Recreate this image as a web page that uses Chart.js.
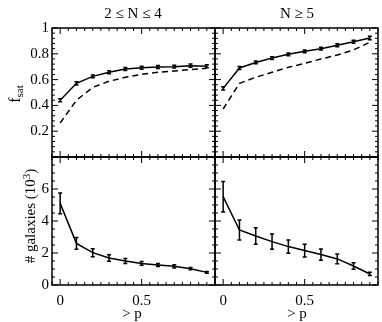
<!DOCTYPE html>
<html>
<head>
<meta charset="utf-8">
<script src="https://cdn.jsdelivr.net/npm/chart.js@4.4.1/dist/chart.umd.min.js"></script>
<style>
  body { margin: 0; background: #fff; }
  #wrap { position: relative; width: 382px; height: 322px; font-family: "Liberation Serif", serif; color: #000; }
  canvas { position: absolute; left: 0; top: 0; }
  .lbl { position: absolute; font-size: 15px; line-height: 15px; white-space: nowrap; }
  .rot { transform: translate(-50%, -50%) rotate(-90deg); }
  .ctr { transform: translate(-50%, -50%); }
  sub { font-size: 11px; vertical-align: -3px; line-height: 0; }
  sup { font-size: 11px; vertical-align: 5px; line-height: 0; }
</style>
</head>
<body>
<div id="wrap">
  <canvas id="tl" width="382" height="322"></canvas>
  <canvas id="tr" width="382" height="322"></canvas>
  <canvas id="bl" width="382" height="322"></canvas>
  <canvas id="br" width="382" height="322"></canvas>
  <div class="lbl ctr" style="left:133px;top:13px;">2 ≤ N ≤ 4</div>
  <div class="lbl ctr" style="left:297px;top:13px;">N ≥ 5</div>
  <div class="lbl rot" style="left:14px;top:94px;font-size:16px;">f<sub>sat</sub></div>
  <div class="lbl rot" style="left:30px;top:216px;"># galaxies (10<sup>3</sup>)</div>
  <div class="lbl ctr" style="left:132px;top:313px;">&gt; p</div>
  <div class="lbl ctr" style="left:297px;top:313px;">&gt; p</div>
</div>
<script>
// valores
const pCortes = [0, 0.1, 0.2, 0.3, 0.4, 0.5, 0.6, 0.7, 0.8, 0.9];

const fsatPequenos = [0.44, 0.571, 0.625, 0.657, 0.682, 0.692, 0.698, 0.70, 0.708, 0.703];
const fsatPequenosErr = [0.012, 0.012, 0.011, 0.011, 0.011, 0.011, 0.011, 0.011, 0.013, 0.012];
const fsatPequenosRef = [0.264, 0.44, 0.54, 0.587, 0.618, 0.64, 0.657, 0.667, 0.677, 0.687];

const fsatGrandes = [0.532, 0.69, 0.733, 0.767, 0.796, 0.819, 0.84, 0.866, 0.894, 0.922];
const fsatGrandesErr = [0.012, 0.012, 0.011, 0.011, 0.011, 0.011, 0.011, 0.011, 0.012, 0.014];
const fsatGrandesRef = [0.372, 0.571, 0.618, 0.657, 0.695, 0.726, 0.76, 0.79, 0.83, 0.89];

const galPequenos = [5.1, 2.6, 2.02, 1.69, 1.5, 1.35, 1.25, 1.17, 1.02, 0.79];
const galPequenosErr = [0.65, 0.37, 0.25, 0.2, 0.15, 0.12, 0.1, 0.1, 0.07, 0.05];

const galGrandes = [5.52, 3.44, 3.06, 2.71, 2.4, 2.15, 1.9, 1.63, 1.19, 0.69];
const galGrandesErr = [0.95, 0.62, 0.52, 0.48, 0.42, 0.4, 0.35, 0.3, 0.2, 0.1];

const ticksX = [0, 0.5];
const etiquetasX = ['0', '0.5'];
const ticksFsat = [0.2, 0.4, 0.6, 0.8, 1];
const etiquetasFsat = ['0.2', '0.4', '0.6', '0.8', '1'];
const ticksGal = [0, 2, 4, 6];
const etiquetasGal = ['0', '2', '4', '6'];

const fuente = { family: 'Liberation Serif', size: 15 };

// dibuja marco, ticks hacia adentro y barras de error
const marco = {
  id: 'marco',
  afterDatasetsDraw(chart, args, opts) {
    const { ctx, chartArea: a, scales: { x, y } } = chart;
    ctx.save();
    ctx.strokeStyle = '#000';

    // barras de error
    ctx.lineWidth = 1.5;
    (opts.errores || []).forEach(e => {
      pCortes.forEach((p, i) => {
        const px = x.getPixelForValue(p);
        const y1 = y.getPixelForValue(e.val[i] - e.err[i]);
        const y2 = y.getPixelForValue(e.val[i] + e.err[i]);
        ctx.beginPath();
        ctx.moveTo(px, y1); ctx.lineTo(px, y2);
        ctx.moveTo(px - 2, y1); ctx.lineTo(px + 2, y1);
        ctx.moveTo(px - 2, y2); ctx.lineTo(px + 2, y2);
        ctx.stroke();
      });
    });

    // ticks
    ctx.lineWidth = 1;
    const tickX = (v, len) => {
      const px = x.getPixelForValue(v);
      ctx.moveTo(px, a.bottom); ctx.lineTo(px, a.bottom - len);
      ctx.moveTo(px, a.top); ctx.lineTo(px, a.top + len);
    };
    const tickY = (v, len) => {
      const py = y.getPixelForValue(v);
      ctx.moveTo(a.left, py); ctx.lineTo(a.left + len, py);
      ctx.moveTo(a.right, py); ctx.lineTo(a.right - len, py);
    };
    ctx.beginPath();
    for (let k = -1; k <= 19; k++) {
      const v = k * 0.05;
      if (v < x.min - 1e-9 || v > x.max + 1e-9) continue;
      tickX(v, k % 10 === 0 ? 6 : 3);
    }
    const n = Math.round((y.max - y.min) / opts.menor);
    for (let k = 0; k <= n; k++) {
      const v = y.min + k * opts.menor;
      const mayor = Math.abs(v / opts.mayor - Math.round(v / opts.mayor)) < 1e-6;
      tickY(v, mayor ? 6 : 3);
    }
    ctx.stroke();

    // marco
    ctx.lineWidth = 1.5;
    ctx.strokeRect(a.left, a.top, a.right - a.left, a.bottom - a.top);
    ctx.restore();
  }
};

function crearPanel(id, caja, ejeY, series, errores, verY, verX) {
  const anchoY = verY ? caja.l : 0;
  const altoX = verX ? 322 - caja.b : 0;
  new Chart(document.getElementById(id), {
    type: 'line',
    data: {
      datasets: series.map(s => ({
        data: pCortes.map((p, i) => ({ x: p, y: s.valores[i] })),
        borderColor: '#000',
        borderWidth: 1.5,
        borderDash: s.punteada ? [6, 4] : [],
        pointRadius: 0,
        tension: 0,
        fill: false
      }))
    },
    options: {
      responsive: false,
      animation: false,
      devicePixelRatio: 1,
      layout: { padding: { left: caja.l - anchoY, top: caja.t, right: 382 - caja.r, bottom: 322 - caja.b - altoX } },
      plugins: {
        legend: { display: false },
        tooltip: { enabled: false },
        marco: { errores: errores, mayor: ejeY.mayor, menor: ejeY.menor }
      },
      scales: {
        x: {
          type: 'linear', min: -0.05, max: 0.95,
          grid: { display: false, drawTicks: false }, border: { display: false },
          afterBuildTicks: s => { s.ticks = ticksX.map(v => ({ value: v })); },
          afterFit: s => { s.height = altoX; },
          ticks: {
            display: verX, padding: 7, color: '#000', font: fuente, maxRotation: 0, autoSkip: false,
            callback: (v, i) => etiquetasX[i]
          }
        },
        y: {
          type: 'linear', min: ejeY.min, max: ejeY.max,
          grid: { display: false, drawTicks: false }, border: { display: false },
          afterBuildTicks: s => { s.ticks = ejeY.ticks.map(v => ({ value: v })); },
          afterFit: s => { s.width = anchoY; },
          ticks: {
            display: verY, padding: 3, color: '#000', font: fuente, autoSkip: false,
            callback: (v, i) => ejeY.etiquetas[i]
          }
        }
      }
    },
    plugins: [marco]
  });
}

const ejeFsat = { min: 0, max: 1, ticks: ticksFsat, etiquetas: etiquetasFsat, mayor: 0.2, menor: 0.04 };
const ejeGal = { min: 0, max: 8, ticks: ticksGal, etiquetas: etiquetasGal, mayor: 2, menor: 0.5 };

crearPanel('tl', { l: 52, r: 215, t: 28, b: 157 }, ejeFsat,
  [{ valores: fsatPequenos }, { valores: fsatPequenosRef, punteada: true }],
  [{ val: fsatPequenos, err: fsatPequenosErr }], true, false);
crearPanel('tr', { l: 215, r: 378, t: 28, b: 157 }, ejeFsat,
  [{ valores: fsatGrandes }, { valores: fsatGrandesRef, punteada: true }],
  [{ val: fsatGrandes, err: fsatGrandesErr }], false, false);
crearPanel('bl', { l: 52, r: 215, t: 157, b: 285 }, ejeGal,
  [{ valores: galPequenos }],
  [{ val: galPequenos, err: galPequenosErr }], true, true);
crearPanel('br', { l: 215, r: 378, t: 157, b: 285 }, ejeGal,
  [{ valores: galGrandes }],
  [{ val: galGrandes, err: galGrandesErr }], false, true);
</script>
</body>
</html>
